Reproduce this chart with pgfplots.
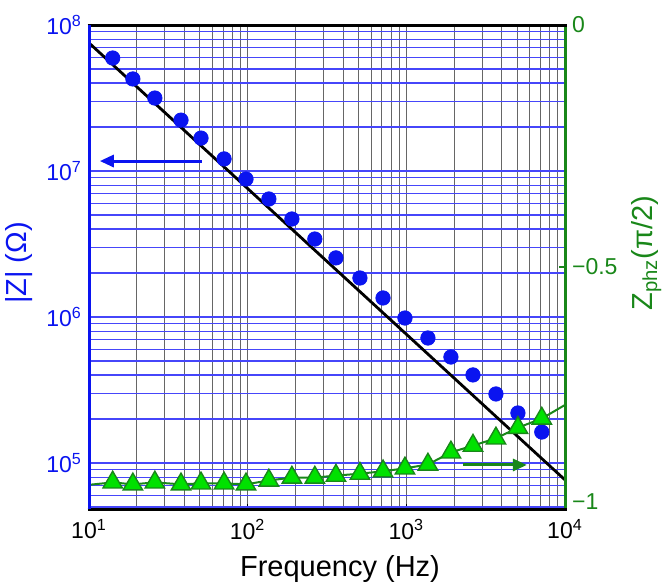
\documentclass[border=0pt]{standalone}
\usepackage{fontspec}
\setmainfont{Liberation Sans}
\usepackage{pgfplots}
\pgfplotsset{compat=1.18}
\usetikzlibrary{arrows.meta}

\definecolor{zblue}{RGB}{10,20,240}
\definecolor{gridblue}{RGB}{70,70,250}
\definecolor{phzgreen}{RGB}{25,135,25}
\definecolor{trifill}{RGB}{0,225,0}

\begin{document}
\begin{tikzpicture}
  % vertical grid only
  \begin{axis}[
    scale only axis, width=238pt, height=242pt,
    xmode=log, xmin=10, xmax=10000,
    ymin=0, ymax=1,
    axis line style={draw=none},
    ytick=\empty,
    xticklabels={},
    tick style={draw=none},
    xmajorgrids, xminorgrids,
    grid style={black!60, line width=0.45pt},
  ]
  \addplot[draw=none] coordinates {(10,0) (10000,1)};
  \end{axis}

  \begin{axis}[
    name=main,
    scale only axis, width=238pt, height=242pt,
    xmode=log, xmin=10, xmax=10000,
    ymode=log,
    ymin=4.84e4, ymax=1e8,
    axis line style={draw=none},
    xtick={10,100,1000,10000},
    xticklabels={10\textsuperscript{1},10\textsuperscript{2},10\textsuperscript{3},10\textsuperscript{4}},
    ytick={1e5,1e6,1e7,1e8},
    yticklabels={10\textsuperscript{5},10\textsuperscript{6},10\textsuperscript{7},10\textsuperscript{8}},
    yminorticks=false,
    extra y ticks={5e4,6e4,7e4,8e4,9e4,
      2e5,3e5,4e5,5e5,6e5,7e5,8e5,9e5,
      2e6,3e6,4e6,5e6,6e6,7e6,8e6,9e6,
      2e7,3e7,4e7,5e7,6e7,7e7,8e7,9e7},
    extra y tick labels={},
    extra y tick style={grid=major, major grid style={gridblue, line width=0.6pt}},
    xtick pos=bottom, ytick pos=left,
    tick align=inside,
    major tick length=2.5pt, minor tick length=1.5pt,
    x tick style={black, line width=0.8pt},
    y tick style={draw=none},
    tick label style={font=\fontsize{11.5}{13}\selectfont},
    yticklabel style={zblue},
    xticklabel style={yshift=-1.5pt},
    ymajorgrids,
    major grid style={gridblue, line width=0.6pt},
    xlabel={Frequency (Hz)},
    ylabel={|Z| (Ω)},
    label style={font=\fontsize{14.5}{17}\selectfont},
    xlabel style={yshift=-1.5pt, xshift=6.5pt},
    ylabel style={zblue, xshift=2pt},
    clip=false,
  ]
  % fitted line
  \addplot[black, line width=1.4pt] coordinates {(10,7.54e7) (10000,7.66e4)};
  % |Z| data
  \addplot[only marks, mark=*, mark size=3.6pt, color=zblue] coordinates {
    (14.1,5.94e7) (18.9,4.27e7) (26.0,3.16e7) (38.0,2.23e7) (50.8,1.68e7)
    (71.0,1.21e7) (97.6,8.81e6) (136,6.43e6) (190,4.69e6) (265,3.42e6)
    (360,2.54e6) (510,1.85e6) (713,1.35e6) (980,9.84e5) (1368,7.18e5)
    (1910,5.32e5) (2630,4.01e5) (3670,2.97e5) (5050,2.20e5) (7140,1.63e5)
  };
  % arrow to the left axis
  \addplot[zblue, line width=1.5pt, -{Triangle[length=7pt,width=6pt]}] coordinates {(51.5,1.17e7) (11.7,1.17e7)};
  \end{axis}

  \begin{axis}[
    scale only axis, width=238pt, height=242pt,
    xmode=log, xmin=10, xmax=10000,
    ymin=-1, ymax=0,
    axis x line=none,
    axis y line*=right,
    y axis line style={phzgreen, line width=1.5pt, -},
    ytick={-1,-0.5,0},
    yticklabels={\raisebox{7pt}{−1},−0.5,\raisebox{-1.5pt}{0}},
    tick align=inside,
    major tick length=3pt,
    y tick style={phzgreen, line width=0.8pt},
    tick label style={font=\fontsize{11.5}{13}\selectfont},
    yticklabel style={phzgreen},
    ylabel={Z\textsubscript{phz}(π/2)},
    label style={font=\fontsize{14.5}{17}\selectfont},
    ylabel style={phzgreen, xshift=7pt},
    clip=false,
  ]
  \addplot[phzgreen, line width=1pt] coordinates {
    (10,-0.950) (14.1,-0.945) (18.9,-0.949) (26.0,-0.945) (38.0,-0.949) (50.8,-0.947)
    (71.0,-0.947) (97.6,-0.949) (136,-0.941) (190,-0.935) (265,-0.935)
    (360,-0.931) (510,-0.927) (713,-0.922) (980,-0.916) (1368,-0.908)
    (1910,-0.883) (2630,-0.869) (3670,-0.854) (5050,-0.832) (7140,-0.813)
    (10000,-0.785)
  };
  \addplot[only marks, mark=triangle*, mark size=5.6pt,
    mark options={fill=trifill, draw=phzgreen, line width=0.7pt}] coordinates {
    (14.1,-0.945) (18.9,-0.949) (26.0,-0.945) (38.0,-0.949) (50.8,-0.947)
    (71.0,-0.947) (97.6,-0.949) (136,-0.941) (190,-0.935) (265,-0.935)
    (360,-0.931) (510,-0.927) (713,-0.922) (980,-0.916) (1368,-0.908)
    (1910,-0.883) (2630,-0.869) (3670,-0.854) (5050,-0.832) (7140,-0.813)
  };
  % arrow to the right axis
  \addplot[phzgreen, line width=1.5pt, -{Triangle[length=7pt,width=6pt]}] coordinates {(2275,-0.909) (5750,-0.909)};
  \end{axis}

  % axis frame
  \draw[black, line width=1.5pt] ([xshift=-0.75pt]main.south west) -- ([xshift=0.75pt]main.south east);
  \draw[black, line width=1.5pt] ([xshift=-0.75pt]main.north west) -- ([xshift=0.75pt]main.north east);
  \draw[zblue, line width=1.5pt] (main.south west) -- (main.north west);

  \pgfresetboundingbox
  \path ([shift={(-44.5pt,-39pt)}]main.south west) rectangle ([shift={(48.5pt,12.5pt)}]main.north east);
\end{tikzpicture}
\end{document}
